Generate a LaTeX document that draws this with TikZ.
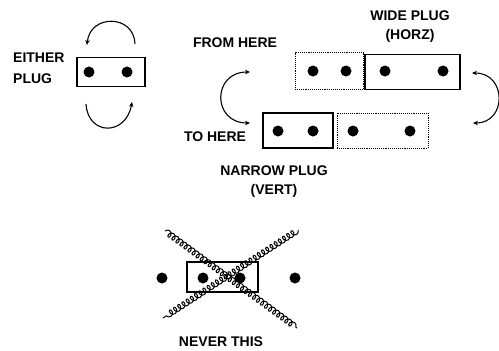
\documentclass[tikz,border=0pt]{standalone}
\usepackage{fontspec}
\setmainfont{Liberation Sans}
\usetikzlibrary{arrows.meta,decorations.pathmorphing}

\begin{document}
\begin{tikzpicture}[
    x=1pt, y=-1pt,
    plug/.style={draw, rectangle, line width=1.3pt, inner sep=0pt},
    ghost/.style={plug, line width=0.9pt, densely dotted},
    pin/.style={circle, fill, minimum size=11pt, inner sep=0pt},
    lbl/.style={font=\bfseries\fontsize{14}{15}\selectfont, inner sep=0pt},
    swap/.style={line width=1.1pt, -{Stealth[length=5pt,width=4.5pt]}},
    chain/.style={line width=1pt, decorate,
        decoration={coil, aspect=0.8, segment length=5pt, amplitude=3pt}}
]
\useasboundingbox (0,0) rectangle (499,351);

% either plug
\node[lbl, align=left, anchor=west] (either) at (13,68) {EITHER\\[6pt]PLUG};
\node[plug, minimum width=68pt, minimum height=29pt] (ebox) at (111,72) {};
\node[pin] (e1) at (89,72) {};
\node[pin] (e2) at (127,72) {};
\coordinate (eu1) at (135,44);
\coordinate (eu2) at (87,45);
\coordinate (el1) at (86,104);
\coordinate (el2) at (132,102);
\draw[swap] (eu1) .. controls (134,14) and (90,14) .. (eu2);
\draw[swap] (el1) .. controls (88,136) and (126,136) .. (el2);

% wide plug (top row)
\node[lbl, align=center] (wide) at (410,27) {WIDE PLUG\\[4pt](HORZ)};
\node[lbl] (from) at (235,43) {FROM HERE};
\node[ghost, minimum width=68pt, minimum height=37pt] (tbox1) at (329,71) {};
\node[plug, minimum width=95pt, minimum height=35pt] (tbox2) at (412.5,72) {};
\node[pin] (t1) at (313,71) {};
\node[pin] (t2) at (346,71) {};
\node[pin] (t3) at (385,71) {};
\node[pin] (t4) at (443,71) {};

% narrow plug (bottom row)
\node[lbl] (to) at (215,137) {TO HERE};
\node[plug, minimum width=70pt, minimum height=35pt] (bbox1) at (298,130.5) {};
\node[ghost, minimum width=91pt, minimum height=35pt] (bbox2) at (382.5,130.5) {};
\node[pin] (b1) at (278,131) {};
\node[pin] (b2) at (313,131) {};
\node[pin] (b3) at (353,131) {};
\node[pin] (b4) at (410,131) {};
\node[lbl, align=center] (narrow) at (274,182) {NARROW PLUG\\[4pt](VERT)};

% swap arrows
\coordinate (sl1) at (250,72);
\coordinate (sl2) at (250,123);
\coordinate (sr1) at (472,73);
\coordinate (sr2) at (473,123);
\draw[swap, {Stealth[length=5pt,width=4.5pt]}-{Stealth[length=5pt,width=4.5pt]}]
    (sl1) .. controls (212,72) and (212,123) .. (sl2);
\draw[swap, {Stealth[length=5pt,width=4.5pt]}-{Stealth[length=5pt,width=4.5pt]}]
    (sr1) .. controls (507,73) and (507,123) .. (sr2);

% never this
\node[pin] (n1) at (162,278) {};
\node[pin] (n2) at (203,278) {};
\node[pin] (n3) at (240,278) {};
\node[pin] (n4) at (295,278) {};
\node[plug, minimum width=71pt, minimum height=30pt] (nbox) at (222.5,277) {};
\coordinate (x1) at (165,231);
\coordinate (x2) at (297,328);
\coordinate (x3) at (298,230);
\coordinate (x4) at (163,318);
\draw[chain] (x1) -- (x2);
\draw[chain] (x3) -- (x4);
\node[lbl] (never) at (221,342) {NEVER THIS};

\end{tikzpicture}
\end{document}
